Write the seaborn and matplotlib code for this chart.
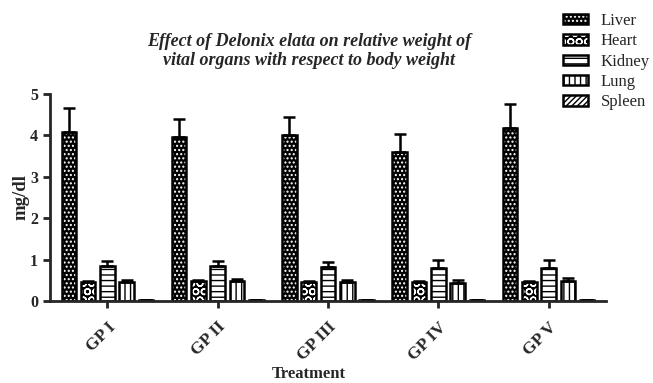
import numpy as np
import pandas as pd
import matplotlib
matplotlib.use("Agg")
import matplotlib.pyplot as plt
import seaborn as sns

groups = ["GP I", "GP II", "GP III", "GP IV", "GP V"]
organs = ["Liver", "Heart", "Kidney", "Lung", "Spleen"]
liver = [4.09, 3.96, 4.00, 3.61, 4.19]
liver_err = [0.57, 0.44, 0.45, 0.42, 0.57]
heart = [0.47, 0.48, 0.46, 0.47, 0.46]
heart_err = [0.02, 0.02, 0.02, 0.02, 0.02]
kidney = [0.85, 0.85, 0.82, 0.79, 0.79]
kidney_err = [0.12, 0.12, 0.11, 0.20, 0.20]
lung = [0.47, 0.48, 0.46, 0.43, 0.48]
lung_err = [0.04, 0.05, 0.05, 0.08, 0.08]
spleen = [0.03, 0.03, 0.03, 0.03, 0.03]
spleen_err = [0.004, 0.004, 0.004, 0.004, 0.004]

values = [liver, heart, kidney, lung, spleen]
errors = [liver_err, heart_err, kidney_err, lung_err, spleen_err]

rows = []
for o, vals in zip(organs, values):
    for g, v in zip(groups, vals):
        rows.append({"Treatment": g, "Organ": o, "value": v})
df = pd.DataFrame(rows)

sns.set_style("ticks")
plt.rcParams["font.family"] = ["Liberation Serif", "DejaVu Serif"]
plt.rcParams["hatch.linewidth"] = 1.0

fig = plt.figure(figsize=(6.53, 3.83), dpi=100)
ax = fig.add_axes([50 / 653, 82 / 383, 556 / 653, 207 / 383])

sns.barplot(data=df, x="Treatment", y="value", hue="Organ", hue_order=organs,
            order=groups, palette=["white"] * 5, width=0.875, gap=0.25,
            legend=False, ax=ax, edgecolor="black", linewidth=1.8,
            errorbar=None)

styles = [
    dict(face="black", hatch="....", hcol="white"),
    dict(face="black", hatch="OO", hcol="white"),
    dict(face="white", hatch="---", hcol="black"),
    dict(face="white", hatch="|||", hcol="black"),
    dict(face="white", hatch="//////", hcol="black"),
]

bar_containers = list(ax.containers)
for cont, st, errs in zip(bar_containers, styles, errors):
    xs, hs = [], []
    for p in cont.patches:
        p.set_facecolor(st["face"])
        p.set_edgecolor("black")
        p.set_hatch(st["hatch"])
        p._hatch_color = matplotlib.colors.to_rgba(st["hcol"])
        p.stale = True
        xs.append(p.get_x() + p.get_width() / 2)
        hs.append(p.get_height())
    ax.errorbar(xs, hs, yerr=[np.zeros(len(errs)), errs], fmt="none",
                ecolor="black", elinewidth=1.8, capsize=4, capthick=1.8,
                zorder=1)

ax.set_xlim(-0.52, 4.52)
ax.set_ylim(0, 5)
ax.set_yticks([0, 1, 2, 3, 4, 5])
sns.despine(ax=ax)
for s in ["left", "bottom"]:
    ax.spines[s].set_linewidth(2)
ax.tick_params(axis="both", width=2, length=5, direction="out")
ax.tick_params(axis="x", pad=8)
for lab in ax.get_yticklabels():
    lab.set_fontweight("bold")
    lab.set_fontsize(11.5)
for lab in ax.get_xticklabels():
    lab.set_fontweight("bold")
    lab.set_fontsize(12.5)
    lab.set_rotation(45)
    lab.set_ha("right")
    lab.set_rotation_mode("anchor")

ax.set_xlabel("")
ax.set_ylabel("")
fig.text(309 / 653, 1 - 374 / 383, "Treatment", ha="center", va="center",
         fontsize=12, fontweight="bold")
fig.text(21 / 653, 1 - 197 / 383, "mg/dl", ha="center", va="center",
         fontsize=13.5, fontweight="bold", rotation=90)

fig.text(309 / 653, 1 - 51 / 383,
         "Effect of Delonix elata on relative weight of\nvital organs with respect to body weight",
         ha="center", va="center", fontsize=13, fontweight="bold",
         style="italic", linespacing=1.1)

handles = [cont.patches[0] for cont in bar_containers]
fig.legend(handles, organs, loc="upper left",
           bbox_to_anchor=(563 / 653, 1 - 13 / 383), frameon=False,
           fontsize=12, handlelength=1.5, handleheight=0.6,
           labelspacing=0.26, handletextpad=0.75, borderaxespad=0,
           borderpad=0)

fig.savefig("out.png", dpi=100)
